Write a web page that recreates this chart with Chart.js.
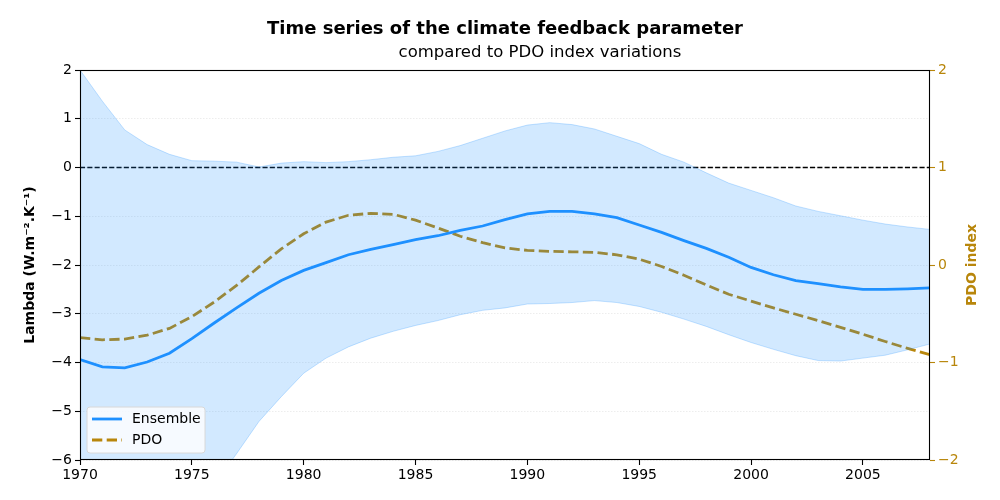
<!DOCTYPE html>
<html>
<head>
<meta charset="utf-8">
<script src="https://cdn.jsdelivr.net/npm/chart.js@4.4.0/dist/chart.umd.min.js"></script>
<style>
  html, body { margin: 0; padding: 0; background: #fff; }
  #wrap { width: 1000px; height: 500px; position: relative; }
</style>
</head>
<body>
<div id="wrap"><canvas id="chart" width="1000" height="500"></canvas></div>
<script>
// Climate feedback parameter (lambda) vs PDO index, 1970-2008

const years = [1970,1971,1972,1973,1974,1975,1976,1977,1978,1979,1980,1981,1982,1983,1984,1985,1986,1987,1988,1989,
  1990,1991,1992,1993,1994,1995,1996,1997,1998,1999,2000,2001,2002,2003,2004,2005,2006,2007,2008];

const ensemble = [-3.94,-4.09,-4.11,-3.99,-3.81,-3.51,-3.19,-2.88,-2.58,-2.32,-2.11,-1.95,-1.79,-1.68,-1.58,-1.48,-1.40,-1.29,-1.20,-1.07,
  -0.95,-0.90,-0.90,-0.95,-1.03,-1.18,-1.33,-1.50,-1.66,-1.84,-2.05,-2.20,-2.32,-2.38,-2.45,-2.50,-2.50,-2.49,-2.47];

const ensembleUpper = [2.00,1.36,0.77,0.47,0.27,0.14,0.13,0.11,0.01,0.09,0.12,0.10,0.12,0.16,0.21,0.24,0.33,0.45,0.60,0.75,
  0.87,0.92,0.88,0.79,0.64,0.49,0.27,0.11,-0.11,-0.32,-0.47,-0.62,-0.79,-0.90,-0.99,-1.08,-1.16,-1.22,-1.27];

const ensembleLower = [-9.90,-9.54,-8.99,-8.45,-7.89,-7.16,-6.51,-5.87,-5.21,-4.70,-4.22,-3.91,-3.68,-3.50,-3.36,-3.24,-3.14,-3.02,-2.93,-2.88,
  -2.80,-2.79,-2.77,-2.73,-2.77,-2.85,-2.97,-3.11,-3.26,-3.43,-3.59,-3.73,-3.86,-3.96,-3.97,-3.91,-3.85,-3.74,-3.62];

const pdo = [-0.745,-0.767,-0.76,-0.72,-0.65,-0.53,-0.38,-0.21,-0.02,0.165,0.32,0.44,0.51,0.53,0.52,0.46,0.38,0.295,0.23,0.175,
  0.15,0.14,0.135,0.13,0.105,0.06,-0.015,-0.105,-0.205,-0.30,-0.37,-0.44,-0.505,-0.57,-0.64,-0.71,-0.785,-0.855,-0.92];

const xTicks = [1970,1975,1980,1985,1990,1995,2000,2005];
const lambdaTicks = [2,1,0,-1,-2,-3,-4,-5,-6];
const pdoTicks = [2,1,0,-1,-2];

const blue = '#1e90ff';
const gold = '#b8860b';
const FONT = '"DejaVu Sans", sans-serif';

const pts = arr => arr.map((v, i) => ({ x: years[i], y: v }));
const minus = v => String(v).replace('-', '\u2212');

function vText(ctx, text, x, y) {
  ctx.save();
  ctx.translate(x, y);
  ctx.rotate(-Math.PI / 2);
  ctx.fillText(text, 0, 0);
  ctx.restore();
}

// titles, axis labels, frame and in-axes legend
const decor = {
  id: 'decor',
  afterDraw(chart) {
    const { ctx, chartArea: a } = chart;
    const midY = (a.top + a.bottom) / 2;
    ctx.save();
    ctx.fillStyle = '#000';
    ctx.textAlign = 'center';
    ctx.textBaseline = 'alphabetic';
    ctx.font = 'bold 18px ' + FONT;
    ctx.fillText('Time series of the climate feedback parameter', 505, 34);
    ctx.font = '16.5px ' + FONT;
    ctx.fillText('compared to PDO index variations', 540, 57);

    ctx.textBaseline = 'middle';
    ctx.font = 'bold 14px ' + FONT;
    vText(ctx, 'Lambda (W.m\u207B\u00B2.K\u207B\u00B9)', 30, midY);
    ctx.fillStyle = gold;
    vText(ctx, 'PDO index', 972, midY);

    ctx.strokeStyle = '#000';
    ctx.lineWidth = 1.1;
    ctx.strokeRect(a.left + 0.5, a.top + 0.5, a.right - a.left - 1, a.bottom - a.top - 1);

    // legend
    const lx = a.left + 7, ly = a.bottom - 53, lw = 118, lh = 46;
    ctx.beginPath();
    ctx.roundRect(lx, ly, lw, lh, 3);
    ctx.fillStyle = 'rgba(255,255,255,0.8)';
    ctx.fill();
    ctx.lineWidth = 1;
    ctx.strokeStyle = '#d8d8d8';
    ctx.stroke();
    ctx.lineWidth = 2.8;
    ctx.strokeStyle = blue;
    ctx.beginPath(); ctx.moveTo(lx + 5, ly + 12); ctx.lineTo(lx + 35, ly + 12); ctx.stroke();
    ctx.strokeStyle = gold;
    ctx.setLineDash([10.3, 4.4]);
    ctx.beginPath(); ctx.moveTo(lx + 5, ly + 33); ctx.lineTo(lx + 35, ly + 33); ctx.stroke();
    ctx.setLineDash([]);
    ctx.fillStyle = '#000';
    ctx.font = '14px ' + FONT;
    ctx.textAlign = 'left';
    ctx.fillText('Ensemble', lx + 45, ly + 12);
    ctx.fillText('PDO', lx + 45, ly + 33);
    ctx.restore();
  }
};

new Chart(document.getElementById('chart'), {
  type: 'line',
  data: {
    datasets: [
      { label: 'upper', data: pts(ensembleUpper), borderColor: 'rgba(30,144,255,0.25)', borderWidth: 1,
        pointRadius: 0, fill: false, tension: 0, yAxisID: 'y' },
      { label: 'lower', data: pts(ensembleLower), borderColor: 'rgba(30,144,255,0.25)', borderWidth: 1,
        pointRadius: 0, fill: '-1', backgroundColor: 'rgba(30,144,255,0.2)', tension: 0, yAxisID: 'y' },
      { label: 'zero', data: [{ x: 1970, y: 0 }, { x: 2008, y: 0 }], borderColor: '#000', borderWidth: 1.3,
        borderDash: [5.1, 2.2], pointRadius: 0, fill: false, yAxisID: 'y' },
      { label: 'Ensemble', data: pts(ensemble), borderColor: blue, borderWidth: 2.8,
        pointRadius: 0, fill: false, tension: 0, yAxisID: 'y' },
      { label: 'PDO', data: pts(pdo), borderColor: gold, borderWidth: 2.8, borderDash: [10.3, 4.4],
        pointRadius: 0, fill: false, tension: 0, yAxisID: 'y2' }
    ]
  },
  options: {
    responsive: false,
    animation: false,
    devicePixelRatio: 1,
    layout: { padding: { top: 70, left: 0, right: 0, bottom: 0 } },
    plugins: { legend: { display: false }, title: { display: false }, tooltip: { enabled: false } },
    scales: {
      x: {
        type: 'linear', min: 1970, max: 2008,
        afterBuildTicks: s => { s.ticks = xTicks.map(v => ({ value: v })); },
        afterFit: s => { s.height = 40; },
        ticks: { color: '#000', font: { family: FONT, size: 14 }, padding: 2, maxRotation: 0, callback: v => String(v) },
        grid: { drawOnChartArea: false, tickLength: 5, tickColor: '#000', tickWidth: 1.1 },
        border: { display: false }
      },
      y: {
        position: 'left', min: -6, max: 2,
        afterBuildTicks: s => { s.ticks = lambdaTicks.map(v => ({ value: v })); },
        afterFit: s => { s.width = 80; },
        ticks: { color: '#000', font: { family: FONT, size: 14 }, padding: 3, callback: v => minus(v) },
        grid: { color: 'rgba(0,0,0,0.07)', lineWidth: 1, tickLength: 5, tickColor: '#000', tickWidth: 1.1 },
        border: { display: false, dash: [1.5, 1.5] }
      },
      y2: {
        position: 'right', min: -2, max: 2,
        afterBuildTicks: s => { s.ticks = pdoTicks.map(v => ({ value: v })); },
        afterFit: s => { s.width = 70; },
        ticks: { color: gold, font: { family: FONT, size: 14 }, padding: 3, callback: v => minus(v) },
        grid: { drawOnChartArea: false, tickLength: 5, tickColor: gold, tickWidth: 1.1 },
        border: { display: false }
      }
    }
  },
  plugins: [decor]
});
</script>
</body>
</html>
